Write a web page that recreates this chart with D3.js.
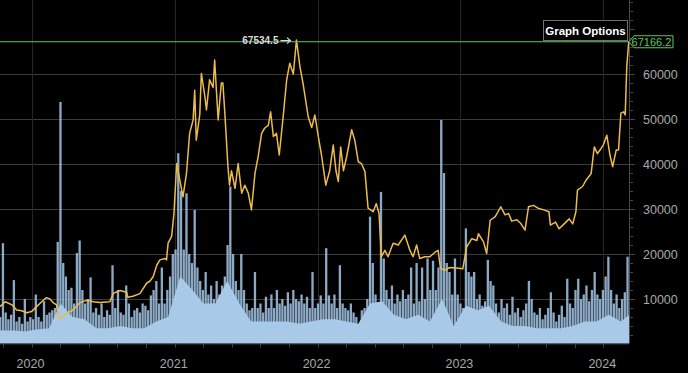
<!DOCTYPE html>
<html><head><meta charset="utf-8">
<script src="https://cdn.jsdelivr.net/npm/d3@7"></script>
<style>
html,body{margin:0;padding:0;background:#000;}
svg{display:block;font-family:"Liberation Sans",Arial,sans-serif;}
</style></head>
<body><svg id="c" width="688" height="373"></svg>
<script>
// ---- data ----
const priceDates = ["2019-10-12","2019-10-26","2019-11-12","2019-11-24","2019-12-07","2019-12-20","2020-01-01","2020-01-14","2020-01-27","2020-02-08","2020-02-17","2020-02-25","2020-03-05","2020-03-09","2020-03-13","2020-03-31","2020-04-16","2020-05-04","2020-05-21","2020-06-07","2020-06-24","2020-07-19","2020-07-28","2020-08-14","2020-08-31","2020-09-03","2020-09-16","2020-10-04","2020-10-21","2020-10-30","2020-11-07","2020-11-16","2020-11-24","2020-12-07","2020-12-11","2020-12-15","2020-12-24","2020-12-30","2021-01-06","2021-01-14","2021-01-22","2021-01-31","2021-02-08","2021-02-17","2021-02-21","2021-02-25","2021-03-06","2021-03-10","2021-03-19","2021-03-23","2021-03-31","2021-04-09","2021-04-13","2021-04-17","2021-04-22","2021-04-30","2021-05-04","2021-05-09","2021-05-17","2021-05-21","2021-05-26","2021-06-04","2021-06-12","2021-06-21","2021-06-29","2021-07-08","2021-07-16","2021-07-25","2021-08-02","2021-08-11","2021-08-19","2021-08-28","2021-09-03","2021-09-10","2021-09-18","2021-09-25","2021-10-05","2021-10-14","2021-10-22","2021-10-31","2021-11-08","2021-11-17","2021-11-25","2021-11-30","2021-12-08","2021-12-17","2021-12-25","2022-01-03","2022-01-11","2022-01-22","2022-02-01","2022-02-10","2022-02-17","2022-02-23","2022-03-01","2022-03-08","2022-03-16","2022-03-29","2022-04-06","2022-04-15","2022-04-23","2022-05-02","2022-05-10","2022-05-23","2022-05-31","2022-06-07","2022-06-13","2022-06-22","2022-06-30","2022-07-13","2022-07-26","2022-08-12","2022-08-25","2022-09-02","2022-09-11","2022-09-19","2022-10-02","2022-10-15","2022-10-28","2022-11-05","2022-11-11","2022-11-22","2022-12-05","2022-12-22","2023-01-07","2023-01-17","2023-01-30","2023-02-12","2023-02-16","2023-03-01","2023-03-09","2023-03-18","2023-03-31","2023-04-14","2023-04-25","2023-05-04","2023-05-12","2023-05-25","2023-06-03","2023-06-15","2023-06-24","2023-07-07","2023-07-20","2023-08-02","2023-08-15","2023-08-19","2023-09-01","2023-09-10","2023-09-23","2023-10-06","2023-10-15","2023-10-23","2023-10-27","2023-11-09","2023-11-18","2023-12-01","2023-12-09","2023-12-17","2023-12-26","2024-01-01","2024-01-10","2024-01-18","2024-01-25","2024-02-03","2024-02-09","2024-02-15","2024-02-22","2024-02-26","2024-03-01","2024-03-06"];
const priceValues = [8300,9400,8700,7550,7400,6960,7200,8300,9400,10300,10000,9200,8700,6070,5700,6800,7550,9200,9700,9400,9200,9400,11250,11900,11500,10400,10600,11200,13500,14000,15000,17500,18700,19000,18700,22400,23900,29000,40100,36400,32700,37900,46800,49800,56400,45300,51000,60100,55000,52000,58700,57000,63100,57000,49800,58000,58000,51300,39400,35300,38500,34600,40100,33500,35300,33500,29800,37900,41600,46800,48000,48600,51600,46100,46800,42000,50500,58700,62400,60000,67534.5,61600,57800,55000,50500,48100,50900,46000,42000,35300,38500,44200,38500,36100,43800,38500,41500,47600,45300,40500,40100,38300,30200,29400,31200,29000,19400,20800,19400,22400,22000,24200,20800,19400,22000,19000,19400,19400,20400,20800,16800,16400,17000,16900,16700,21600,23400,23000,24500,22700,20100,27500,28300,30500,28700,29000,27300,27600,26900,25300,30500,30800,30100,29800,29400,26400,27100,25600,26700,27800,26700,29400,34200,35000,36400,37900,43800,42300,43400,44200,46400,42000,39400,43100,43100,51300,51600,50900,61600,67166.2];

// weekly volume peaks (drawn on the price axis units), weeks starting 2019-10-13
const volumeStart = "2019-10-13";
const volumePeaks = [
 6000,22400,7000,5500,6500,14200,5000,6000,4500,10000,
 5000,6000,5500,11000,6000,5000,9500,6500,7000,7500,
 8000,22700,53800,18000,15000,12000,12500,9000,20200,23000,
 12000,9000,10000,14800,7000,8000,6500,9000,6000,7500,
 6500,17500,8000,12000,7000,6500,13000,9000,6000,7500,
 8000,7000,9000,8500,7500,10800,12000,14000,9000,17000,
 9000,12000,15000,20000,21000,42400,34000,21000,33500,20000,
 18000,29800,17000,14000,12000,16000,11000,13000,10000,14000,
 11000,13000,15000,22000,35000,20000,14000,12000,20000,12000,
 9000,7500,8000,16000,8000,9000,7000,10500,8000,11000,
 8000,12000,9000,10000,8500,11500,9000,12000,10000,9500,
 11000,9000,10500,8000,16000,8000,9000,10800,9000,21300,
 10800,9000,11000,8000,17500,9000,8000,7500,9000,7000,
 6000,3500,7500,8000,10000,28300,18000,11000,9000,33800,
 19000,12000,10000,13000,9000,11000,9500,12000,10000,11000,
 17000,9000,18000,9500,17000,10000,19000,12000,18500,12000,
 17000,49800,38000,18000,16000,11000,19000,11000,9000,8000,
 25700,16000,15000,16000,10000,11000,8500,9500,18700,14000,
 13000,9000,7000,10000,8000,9000,6500,10500,7000,8000,
 6000,7500,9000,14000,10000,7000,6500,8000,5500,6500,
 8000,11500,7000,5000,6500,8500,6000,14500,9000,8000,
 12000,14500,10000,11000,13000,9500,12000,16000,11000,10000,
 12000,15000,19400,12000,9000,11000,8000,10000,11500,19400];

// monthly typical volume level (dense lower band)
const volumeBaseMonths = ["2019-09","2019-10","2019-11","2019-12","2020-01","2020-02","2020-03","2020-04","2020-05","2020-06","2020-07","2020-08","2020-09","2020-10","2020-11","2020-12","2021-01","2021-02","2021-03","2021-04","2021-05","2021-06","2021-07","2021-08","2021-09","2021-10","2021-11","2021-12","2022-01","2022-02","2022-03","2022-04","2022-05","2022-06","2022-07","2022-08","2022-09","2022-10","2022-11","2022-12","2023-01","2023-02","2023-03","2023-04","2023-05","2023-06","2023-07","2023-08","2023-09","2023-10","2023-11","2023-12","2024-01","2024-02","2024-03","2024-04"];
const volumeBase = [3000,3000,3000,2800,3200,3500,9000,6000,5500,3500,3500,4000,3500,3500,5000,6000,15000,12000,9000,9000,14000,9000,5000,5000,5000,5000,4500,5000,5500,5500,5000,4500,9000,9500,6500,5500,6500,5000,10000,4000,8500,7500,8500,5000,4000,4000,3500,3500,3500,4000,5000,5000,6500,5000,7000,7000];

const yTicks = [10000,20000,30000,40000,50000,60000];
const yearLabels = ["2020","2021","2022","2023","2024"];
const maxLabel = "67534.5";
const lastLabel = "67166.2";
const buttonLabel = "Graph Options";

// ---- drawing ----
const W = 688, H = 373;
const plotRight = 629, plotBottom = 343.5;
const parse = d3.utcParse("%Y-%m-%d");
const parseM = d3.utcParse("%Y-%m");
const svg = d3.select("#c");
svg.append("rect").attr("width",W).attr("height",H).attr("fill","#000");

const x = d3.scaleUtc()
  .domain([new Date(Date.UTC(2019,9,12,12)), new Date(Date.UTC(2024,2,6,17))])
  .range([0, plotRight]);
const y = d3.scaleLinear().domain([0,60000]).range([344,74]);
const yVol = y.copy();

svg.append("defs").append("clipPath").attr("id","clip")
  .append("rect").attr("x",0).attr("y",0).attr("width",plotRight).attr("height",plotBottom);

// horizontal grid
svg.append("g").selectAll("line").data(yTicks).join("line")
  .attr("x1",0).attr("x2",plotRight)
  .attr("y1",d=>Math.round(y(d))+0.5).attr("y2",d=>Math.round(y(d))+0.5)
  .attr("stroke","#3a3a3a").attr("stroke-width",1);
// vertical grid at years
const yearDates = yearLabels.map(s=>parse(s+"-01-01"));
svg.append("g").selectAll("line").data(yearDates).join("line")
  .attr("x1",d=>Math.round(x(d))+0.5).attr("x2",d=>Math.round(x(d))+0.5)
  .attr("y1",0).attr("y2",plotBottom)
  .attr("stroke","#262626").attr("stroke-width",1);

const plot = svg.append("g").attr("clip-path","url(#clip)");

// volume weekly bars
const v0 = parse(volumeStart);
const volData = volumePeaks.map((v,i)=>({d:d3.utcDay.offset(v0,7*i), v}));
const bw = x(d3.utcDay.offset(v0,7)) - x(v0);
plot.append("g").selectAll("rect").data(volData).join("rect")
  .attr("x",d=>x(d.d)-bw*0.42).attr("width",bw*0.84)
  .attr("y",d=>yVol(d.v)).attr("height",d=>yVol(0)-yVol(d.v))
  .attr("fill","#9fc1e0").attr("fill-opacity",0.88);

// volume base band
const baseData = volumeBaseMonths.map((m,i)=>({d:d3.utcDay.offset(parseM(m),14), v:volumeBase[i]}));
plot.append("path").datum(baseData)
  .attr("d", d3.area().x(d=>x(d.d)).y0(yVol(0)).y1(d=>yVol(d.v)))
  .attr("fill","#a8cae8");

// price line
const priceData = priceDates.map((s,i)=>({d:parse(s), v:priceValues[i]}));
plot.append("path").datum(priceData)
  .attr("d", d3.line().x(d=>x(d.d)).y(d=>y(d.v)))
  .attr("fill","none").attr("stroke","#ecbc4a").attr("stroke-width",1.5)
  .attr("stroke-linejoin","round");

// last price line
const last = priceData[priceData.length-1];
svg.append("line").attr("x1",0).attr("x2",plotRight)
  .attr("y1",y(last.v)).attr("y2",y(last.v))
  .attr("stroke","#5cc85c").attr("stroke-width",1.2);

// right axis
svg.append("line").attr("x1",plotRight+0.5).attr("x2",plotRight+0.5).attr("y1",0).attr("y2",plotBottom)
  .attr("stroke","#4a4a4a");
const minorY = d3.range(2000, 76001, 2000);
svg.append("g").selectAll("line").data(minorY).join("line")
  .attr("x1",plotRight).attr("x2",d=>plotRight+(d%10000===0?6:4))
  .attr("y1",d=>Math.round(y(d))+0.5).attr("y2",d=>Math.round(y(d))+0.5)
  .attr("stroke","#444");
svg.append("g").selectAll("text").data(yTicks).join("text")
  .attr("x",643).attr("y",d=>y(d)).attr("dy","0.36em")
  .attr("fill","#a8a8a8").attr("font-size",12.5).text(d=>d);

// bottom axis
svg.append("line").attr("x1",0).attr("x2",plotRight).attr("y1",plotBottom+0.5).attr("y2",plotBottom+0.5)
  .attr("stroke","#3a3a3a");
const xMinor = [];
yearDates.forEach(d=>{ for(let k=-1;k<5;k++) xMinor.push(d3.utcDay.offset(d, Math.round(k*73.05))); });
svg.append("g").selectAll("line").data(xMinor.filter(d=>x(d)>=0&&x(d)<=plotRight)).join("line")
  .attr("x1",d=>Math.round(x(d))+0.5).attr("x2",d=>Math.round(x(d))+0.5)
  .attr("y1",plotBottom).attr("y2",plotBottom+4).attr("stroke","#444");
svg.append("g").selectAll("text").data(yearDates).join("text")
  .attr("x",d=>x(d)-1).attr("y",368).attr("text-anchor","middle")
  .attr("fill","#a8a8a8").attr("font-size",12.5)
  .text((d,i)=>yearLabels[i]);

// max label
const maxPt = priceData.reduce((a,b)=>b.v>a.v?b:a);
svg.append("text").attr("x",x(maxPt.d)-18).attr("y",y(maxPt.v)+3.5)
  .attr("text-anchor","end").attr("fill","#dcdcdc").attr("font-size",10).attr("font-weight","bold")
  .text(maxLabel);
const ax = x(maxPt.d)-6, ay = y(maxPt.v)+0.5;
svg.append("line").attr("x1",ax-10).attr("x2",ax).attr("y1",ay).attr("y2",ay).attr("stroke","#dcdcdc").attr("stroke-width",1.2);
svg.append("path").attr("d",`M${ax-3.5},${ay-3}L${ax},${ay}L${ax-3.5},${ay+3}`).attr("fill","none").attr("stroke","#dcdcdc").attr("stroke-width",1.2);

// last price tag
const ty = y(last.v);
svg.append("path")
  .attr("d",`M${plotRight},${ty} L${plotRight+5},${ty-6} H673 V${ty+6} H${plotRight+5} Z`)
  .attr("fill","#000").attr("stroke","#5cc85c").attr("stroke-width",1);
svg.append("text").attr("x",651.5).attr("y",ty).attr("dy","0.36em").attr("text-anchor","middle")
  .attr("fill","#5cc85c").attr("font-size",11).text(lastLabel);

// Graph Options button
svg.append("rect").attr("x",543.5).attr("y",20.5).attr("width",84).attr("height",20)
  .attr("fill","#000").attr("stroke","#707070");
svg.append("text").attr("x",585.5).attr("y",35).attr("text-anchor","middle")
  .attr("fill","#fff").attr("font-size",11.5).attr("font-weight","bold").text(buttonLabel);
</script></body></html>
